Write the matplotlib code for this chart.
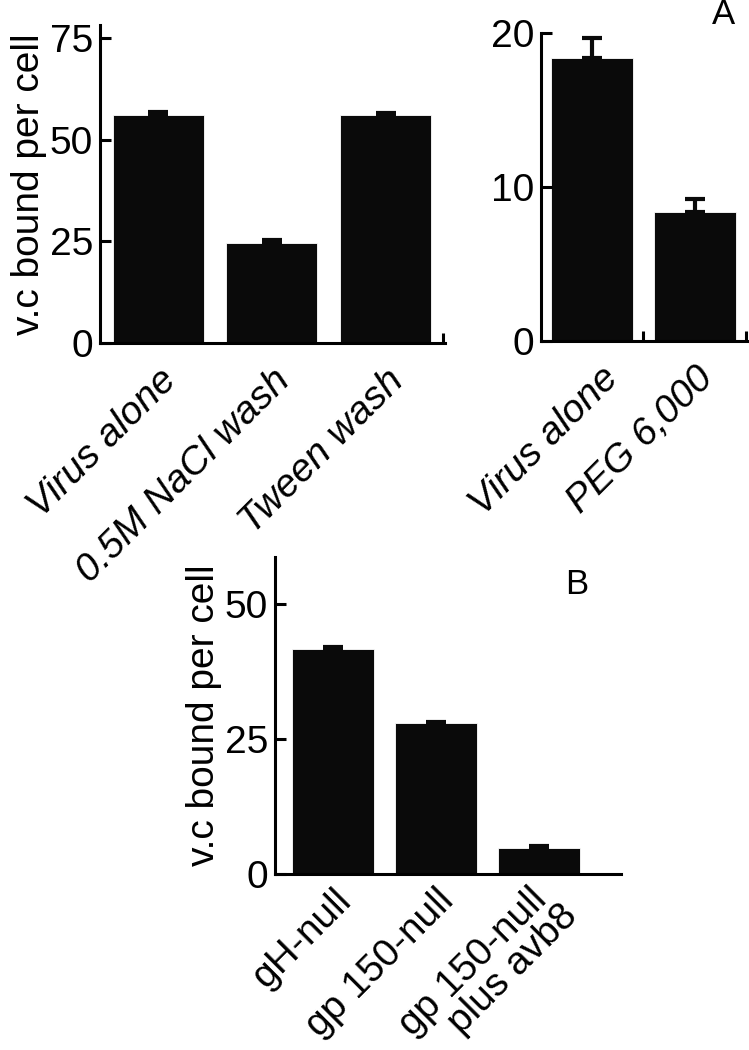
import matplotlib

matplotlib.use("Agg")
import matplotlib.pyplot as plt
import matplotlib.transforms as mtransforms

plt.rcParams["font.family"] = ["Liberation Sans", "DejaVu Sans"]

# --- Datos ---
cat_a1 = ["Virus alone", "0.5M NaCl wash", "Tween wash"]
val_a1 = [56.0, 24.5, 56.0]
err_a1 = [0.7, 0.8, 0.6]

cat_a2 = ["Virus alone", "PEG 6,000"]
val_a2 = [18.4, 8.4]
err_a2 = [1.3, 0.8]

cat_b = ["gH-null", "gp 150-null", "gp 150-null \nplus avb8"]
val_b = [41.6, 27.9, 4.9]
err_b = [0.5, 0.3, 0.3]

FS = 28
LW = 2.2


def panel(fig, rect, cats, vals, errs, ylim, yticks, xlim, minor, italic,
          ylabel=None, xpad=14, shifts=None):
    ax = fig.add_axes(rect)
    x = list(range(len(cats)))
    ax.bar(x, vals, width=0.8, color="#0a0a0a", edgecolor="white", linewidth=0.6)
    ax.errorbar(x, vals, yerr=[[0] * len(errs), errs], fmt="none", ecolor="#0a0a0a",
                elinewidth=3, capsize=7, capthick=3)
    ax.set_xlim(*xlim)
    ax.set_ylim(*ylim)
    ax.set_yticks(yticks)
    ax.spines[["top", "right"]].set_visible(False)
    for s in ("left", "bottom"):
        ax.spines[s].set_linewidth(LW)
    ax.tick_params(axis="y", direction="in", length=8, width=LW, labelsize=FS, pad=5)
    ax.set_xticks(x)
    ax.set_xticks(minor, minor=True)
    ax.tick_params(axis="x", which="major", length=0, pad=xpad)
    ax.tick_params(axis="x", which="minor", direction="in", length=7, width=LW)
    ax.set_xticklabels(cats, fontsize=FS, rotation=45, ha="right", va="top",
                       rotation_mode="anchor", style="italic" if italic else "normal",
                       linespacing=0.9, multialignment="right")
    if shifts:
        # desplazamiento fino (pt) de cada etiqueta
        for lab, (dx, dy) in zip(ax.get_xticklabels(), shifts):
            off = mtransforms.ScaledTranslation(dx / 72, dy / 72, fig.dpi_scale_trans)
            lab.set_transform(lab.get_transform() + off)
    if ylabel:
        ax.set_ylabel(ylabel, fontsize=FS, labelpad=2)
    return ax


fig = plt.figure(figsize=(7.49, 10.5), dpi=100)

panel(fig, [0.1335, 0.6733, 0.4606, 0.3029], cat_a1, val_a1, err_a1,
      (0, 78.2), [0, 25, 50, 75], (-0.51, 2.52), [2.5], True, "v.c bound per cell")
panel(fig, [0.7223, 0.6752, 0.2764, 0.2933], cat_a2, val_a2, err_a2,
      (0, 20), [0, 10, 20], (-0.495, 1.515), [0.5, 1.5], True,
      shifts=[(6, 0), (0, 0)])
panel(fig, [0.3672, 0.1676, 0.4619, 0.3019], cat_b, val_b, err_b,
      (0, 58.7), [0, 25, 50], (-0.563, 2.80), [], False, "v.c bound per cell",
      xpad=6, shifts=[(0, 0), (0, 0), (-2, 6)])

fig.text(723 / 749, 1 - 15 / 1050, "A", fontsize=25, ha="center", va="center")
fig.text(577 / 749, 1 - 585 / 1050, "B", fontsize=25, ha="center", va="center")

fig.savefig("out.png", dpi=100)
